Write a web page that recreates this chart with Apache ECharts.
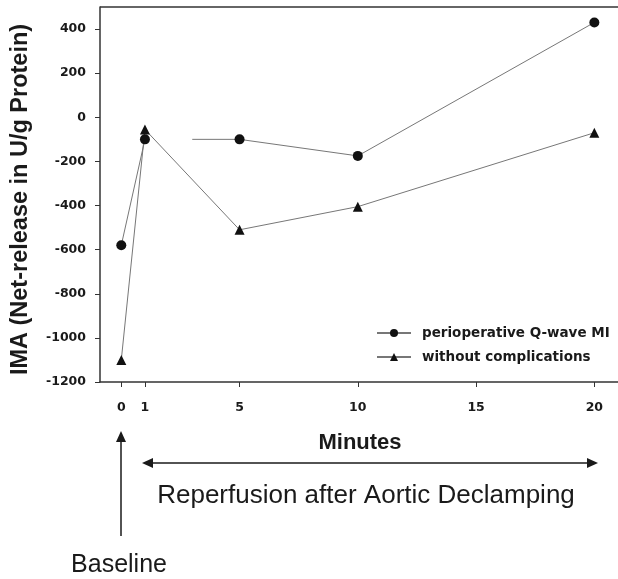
<!DOCTYPE html>
<html>
<head>
<meta charset="utf-8">
<script src="https://cdn.jsdelivr.net/npm/echarts@6/dist/echarts.min.js"></script>
<style>
  html, body { margin: 0; padding: 0; background: #fff; }
  #chart { width: 618px; height: 579px; }
</style>
</head>
<body>
<div id="chart"></div>
<script>
// minutes after declamping
var minutes = [0, 1, 5, 10, 20];
var xTicks = [0, 1, 5, 10, 15, 20];
var yTicks = [-1200, -1000, -800, -600, -400, -200, 0, 200, 400];

// IMA net release (U/g protein)
var miValues = [-580, -100, -100, -175, 430];      // perioperative Q-wave MI
var noCompValues = [-1100, -55, -510, -405, -70];  // without complications

// the MI curve is drawn broken between 1 and 5 min, resuming at 3 min
var miGapStart = 3;

var font = 'Liberation Sans, Arial, sans-serif';
var wideBold = 'DejaVu Sans, Liberation Sans, sans-serif';
var ink = '#1a1a1a';

function pairs(xs, ys) {
    var out = [];
    for (var i = 0; i < xs.length; i++) {
        out.push([xs[i], ys[i]]);
    }
    return out;
}

// MI data with the gap: break after 1 min, restart (no marker) at miGapStart
var miData = [];
for (var i = 0; i < minutes.length; i++) {
    if (minutes[i] > miGapStart && minutes[i - 1] < miGapStart) {
        miData.push([miGapStart - 1, '-']);
        miData.push({ value: [miGapStart, miValues[i]], symbol: 'none' });
    }
    miData.push([minutes[i], miValues[i]]);
}

var myChart = echarts.init(document.getElementById('chart'));

var option = {
    animation: false,
    backgroundColor: '#fff',
    textStyle: { fontFamily: font },
    grid: { left: 100, top: 7, right: -2, bottom: 197 },
    legend: {
        orient: 'vertical',
        left: 371,
        top: 321,
        itemWidth: 34,
        itemHeight: 10,
        itemGap: 10,
        textStyle: { fontFamily: wideBold, fontSize: 13.5, fontWeight: 'bold', color: ink, padding: [0, 0, 0, 6] },
        data: ['perioperative Q-wave MI', 'without complications']
    },
    xAxis: {
        type: 'value',
        min: -0.9,
        max: 21,
        splitLine: { show: false },
        axisLine: { show: true, onZero: false, lineStyle: { color: '#333', width: 1.5 } },
        axisTick: { show: true, length: 5, customValues: xTicks, lineStyle: { color: '#333' } },
        axisLabel: {
            customValues: xTicks,
            margin: 19,
            fontFamily: wideBold, fontSize: 12.5, fontWeight: 'bold', color: ink
        }
    },
    yAxis: {
        type: 'value',
        min: -1200,
        max: 500,
        interval: 100,
        name: 'IMA (Net-release in U/g Protein)',
        nameLocation: 'middle',
        nameGap: 67,
        nameTextStyle: { fontFamily: font, fontSize: 23.5, fontWeight: 'bold', color: ink, padding: [0, 10, 0, 0] },
        splitLine: { show: false },
        axisLine: { show: true, onZero: false, lineStyle: { color: '#333', width: 1.5 } },
        axisTick: { show: true, length: 5, customValues: yTicks, lineStyle: { color: '#333' } },
        axisLabel: {
            customValues: yTicks,
            margin: 14,
            formatter: function (v) { return String(v); },
            fontFamily: wideBold, fontSize: 12.5, fontWeight: 'bold', color: ink
        }
    },
    graphic: [
        // top frame line
        { type: 'line', shape: { x1: 100, y1: 7, x2: 618, y2: 7 }, style: { stroke: '#333', lineWidth: 1.5 } },
        { type: 'text', style: { text: 'Minutes', x: 360, y: 443, align: 'center', verticalAlign: 'middle', font: 'bold 22px ' + font, fill: ink } },
        // horizontal double arrow
        { type: 'line', shape: { x1: 150, y1: 463, x2: 590, y2: 463 }, style: { stroke: ink, lineWidth: 1.5 } },
        { type: 'polygon', shape: { points: [[142, 463], [153, 458], [153, 468]] }, style: { fill: ink } },
        { type: 'polygon', shape: { points: [[598, 463], [587, 458], [587, 468]] }, style: { fill: ink } },
        { type: 'text', style: { text: 'Reperfusion after Aortic Declamping', x: 366, y: 496, align: 'center', verticalAlign: 'middle', font: '26px ' + font, fill: ink } },
        // vertical arrow to baseline
        { type: 'line', shape: { x1: 121, y1: 440, x2: 121, y2: 536 }, style: { stroke: ink, lineWidth: 1.5 } },
        { type: 'polygon', shape: { points: [[121, 431], [116, 442], [126, 442]] }, style: { fill: ink } },
        { type: 'text', style: { text: 'Baseline', x: 119, y: 565, align: 'center', verticalAlign: 'middle', font: '25px ' + font, fill: ink } }
    ],
    series: [
        {
            name: 'perioperative Q-wave MI',
            type: 'line',
            symbol: 'circle',
            symbolSize: 10,
            connectNulls: false,
            itemStyle: { color: '#111' },
            lineStyle: { color: '#777', width: 1 },
            data: miData
        },
        {
            name: 'without complications',
            type: 'line',
            symbol: 'triangle',
            symbolSize: 10,
            itemStyle: { color: '#111' },
            lineStyle: { color: '#777', width: 1 },
            data: pairs(minutes, noCompValues)
        }
    ]
};

myChart.setOption(option);
</script>
</body>
</html>
